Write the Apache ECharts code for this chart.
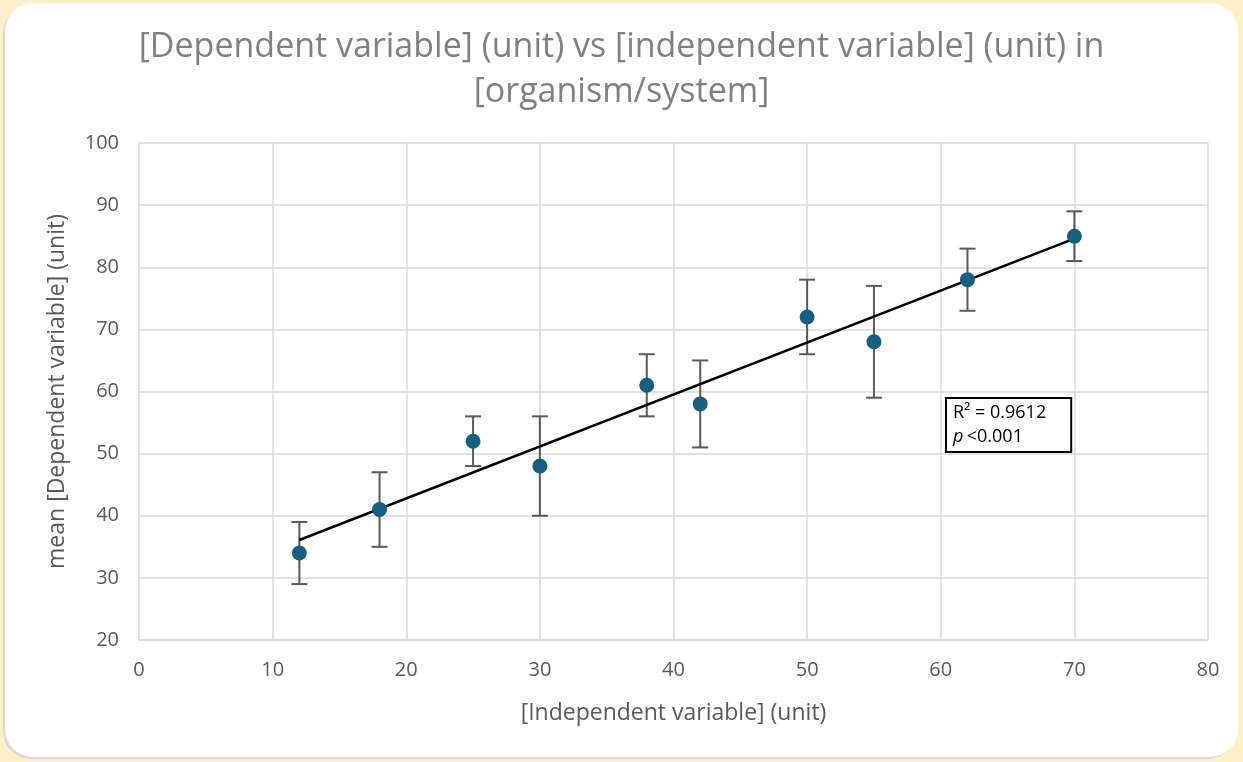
<!DOCTYPE html>
<html>
<head>
<meta charset="utf-8">
<script src="https://cdn.jsdelivr.net/npm/echarts@6/dist/echarts.min.js"></script>
<style>
  html, body { margin: 0; padding: 0; background: #fdf0c8; }
  #wrap {
    position: absolute; left: 5px; top: 3px; width: 1233px; height: 754px;
    background: #ffffff; border-radius: 28px;
    box-shadow: -2px 2px 0 #d9d9d9;
  }
  #chart { width: 1243px; height: 762px; position: absolute; left: 0; top: 0; }
</style>
</head>
<body>
<div id="wrap"></div>
<div id="chart"></div>
<script>
// measured values
const xVals = [12, 18, 25, 30, 38, 42, 50, 55, 62, 70]
const yMeans = [34, 41, 52, 48, 61, 58, 72, 68, 78, 85]
const yLow = [29, 35, 48, 40, 56, 51, 66, 59, 73, 81]
const yHigh = [39, 47, 56, 56, 66, 65, 78, 77, 83, 89]
// trendline ends
const trendX = [12, 70]
const trendY = [36.1, 84.6]

const pointData = xVals.map((x, i) => [x, yMeans[i]])
const errData = xVals.map((x, i) => [x, yLow[i], yHigh[i]])
const trendData = trendX.map((x, i) => [x, trendY[i]])

const fontFam = '"Open Sans", "Liberation Sans", sans-serif'
const chart = echarts.init(document.getElementById('chart'), null, { renderer: 'canvas' })

const option = {
  backgroundColor: 'transparent',
  animation: false,
  title: {
    text: '[Dependent variable] (unit) vs [independent variable] (unit) in\n[organism/system]',
    left: 'center',
    top: 20,
    textStyle: {
      color: '#808080',
      fontSize: 34,
      fontWeight: 'normal',
      fontFamily: fontFam,
      lineHeight: 45
    }
  },
  grid: {
    left: 139,
    right: 35,
    top: 143,
    bottom: 122
  },
  xAxis: {
    type: 'value',
    min: 0,
    max: 80,
    interval: 10,
    name: '[Independent variable] (unit)',
    nameLocation: 'middle',
    nameGap: 62,
    nameTextStyle: { color: '#595959', fontSize: 23, fontFamily: fontFam },
    axisLine: { show: true, lineStyle: { color: '#d9d9d9', width: 1.5 } },
    axisTick: { show: false },
    axisLabel: { color: '#595959', fontSize: 20, fontFamily: fontFam, margin: 20 },
    splitLine: { show: true, lineStyle: { color: '#d9d9d9', width: 1.5 } }
  },
  yAxis: {
    type: 'value',
    min: 20,
    max: 100,
    interval: 10,
    name: 'mean [Dependent variable] (unit)',
    nameLocation: 'middle',
    nameGap: 70,
    nameTextStyle: { color: '#595959', fontSize: 23, fontFamily: fontFam },
    axisLine: { show: false },
    axisTick: { show: false },
    axisLabel: { color: '#595959', fontSize: 20, fontFamily: fontFam, margin: 20 },
    splitLine: { show: true, lineStyle: { color: '#d9d9d9', width: 1.5 } }
  },
  series: [
    {
      type: 'custom',
      name: 'error',
      z: 2,
      renderItem: function (params, api) {
        const x = api.value(0)
        const lo = api.coord([x, api.value(1)])
        const hi = api.coord([x, api.value(2)])
        const cap = 8
        const style = { stroke: '#595959', lineWidth: 2 }
        return {
          type: 'group',
          children: [
            { type: 'line', shape: { x1: lo[0], y1: lo[1], x2: hi[0], y2: hi[1] }, style: style },
            { type: 'line', shape: { x1: lo[0] - cap, y1: lo[1], x2: lo[0] + cap, y2: lo[1] }, style: style },
            { type: 'line', shape: { x1: hi[0] - cap, y1: hi[1], x2: hi[0] + cap, y2: hi[1] }, style: style }
          ]
        }
      },
      data: errData
    },
    {
      type: 'line',
      name: 'trend',
      z: 3,
      symbol: 'none',
      lineStyle: { color: '#000000', width: 2.5 },
      data: trendData
    },
    {
      type: 'scatter',
      name: 'mean',
      z: 4,
      symbol: 'circle',
      symbolSize: 15,
      itemStyle: { color: '#156082', opacity: 1 },
      data: pointData
    }
  ],
  graphic: [
    {
      type: 'text',
      left: 945,
      top: 397,
      z: 10,
      style: {
        text: '{n|R² = 0.9612}\n{i|p} {n|<0.001}',
        fill: '#000',
        backgroundColor: '#ffffff',
        borderColor: '#000000',
        borderWidth: 2,
        padding: [2, 24, 2, 6],
        rich: {
          n: { fontSize: 18, fontFamily: fontFam, lineHeight: 24, fill: '#000' },
          i: { fontSize: 18, fontFamily: fontFam, fontStyle: 'italic', lineHeight: 24, fill: '#000' }
        }
      }
    }
  ]
}
chart.setOption(option)
</script>
</body>
</html>
